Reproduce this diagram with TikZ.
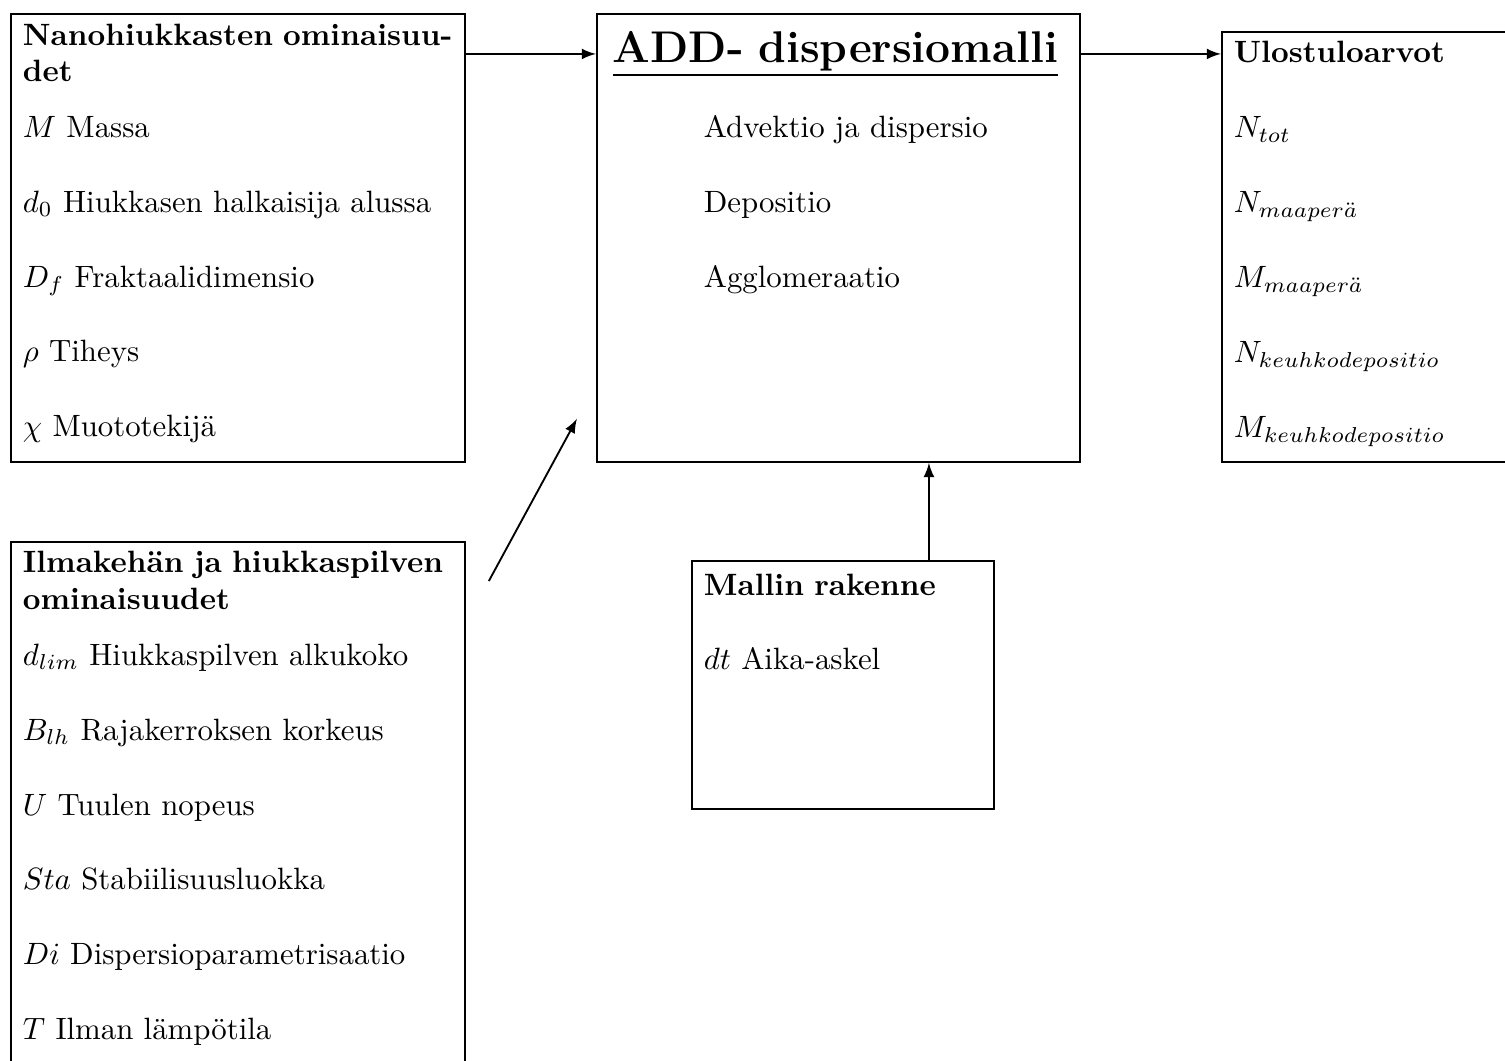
\documentclass[tikz,border=0pt]{standalone}
\newcommand{\vali}{12.3pt}
\begin{document}
\begin{tikzpicture}[semithick,>=latex,
    laatikko/.style={draw,rectangle,anchor=north west,inner sep=0pt},
    teksti/.style={anchor=base west,inner sep=0pt,text width=#1,align=left}]
  \useasboundingbox(0,0)rectangle(17.157,-12.095);
  % laatikot
  \node[laatikko,minimum width=5.176cm,minimum height=5.107cm](nano)at(0.114,-0.148){};
  \node[laatikko,minimum width=5.506cm,minimum height=5.107cm](add)at(6.794,-0.148){};
  \node[laatikko,minimum width=3.42cm,minimum height=4.902cm](ulos)at(13.919,-0.353){};
  \node[laatikko,minimum width=5.176cm,minimum height=6.156cm](ilma)at(0.114,-6.167){};
  \node[laatikko,minimum width=3.443cm,minimum height=2.827cm](mallin)at(7.877,-6.384){};
  % tekstit
  \node[teksti=5.1cm](nanoteksti)at([xshift=0.137cm,yshift=-0.365cm]nano.north west)
    {\textbf{Nanohiukkasten ominaisuu-}\\\textbf{det}\\[5.9pt]
     $M$ Massa\\[\vali]$d_0$ Hiukkasen halkaisija alussa\\[\vali]$D_f$ Fraktaalidimensio\\[\vali]
     $\rho$ Tiheys\\[\vali]$\chi$ Muototekijä};
  \node[teksti=5.4cm,font=\Large\bfseries](addotsikko)at([xshift=0.182cm,yshift=-0.559cm]add.north west)
    {\underline{ADD- dispersiomalli}};
  \node[teksti=4cm](addteksti)at([xshift=1.22cm,yshift=-1.425cm]add.north west)
    {Advektio ja dispersio\\[\vali]Depositio\\[\vali]Agglomeraatio};
  \node[teksti=3.2cm](ulosteksti)at([xshift=0.137cm,yshift=-0.365cm]ulos.north west)
    {\textbf{Ulostuloarvot}\\[\vali]$N_{tot}$\\[\vali]$N_{maaper\ddot{a}}$\\[\vali]$M_{maaper\ddot{a}}$\\[\vali]
     $N_{keuhkodepositio}$\\[\vali]$M_{keuhkodepositio}$};
  \node[teksti=5.1cm](ilmateksti)at([xshift=0.137cm,yshift=-0.365cm]ilma.north west)
    {\textbf{Ilmakehän ja hiukkaspilven}\\\textbf{ominaisuudet}\\[5.9pt]
     $d_{lim}$ Hiukkaspilven alkukoko\\[\vali]$B_{lh}$ Rajakerroksen korkeus\\[\vali]$U$ Tuulen nopeus\\[\vali]
     $Sta$ Stabiilisuusluokka\\[\vali]$Di$ Dispersioparametrisaatio\\[\vali]$T$ Ilman lämpötila};
  \node[teksti=3.3cm](mallinteksti)at([xshift=0.137cm,yshift=-0.399cm]mallin.north west)
    {\textbf{Mallin rakenne}\\[\vali]$dt$ Aika-askel};
  % nuolet
  \draw[->]([yshift=-0.467cm]nano.north east)--([yshift=-0.467cm]add.north west);
  \draw[->]([yshift=-0.467cm]add.north east)--([yshift=-0.262cm]ulos.north west);
  \draw[->]([xshift=2.713cm]mallin.north west)coordinate(mallinyla)--(mallinyla|-add.south);
  \coordinate(ilmanuoli)at([xshift=0.262cm,yshift=-0.456cm]ilma.north east);
  \coordinate(addnuoli)at([xshift=-0.217cm,yshift=0.502cm]add.south west);
  \draw[->](ilmanuoli)--(addnuoli);
\end{tikzpicture}
\end{document}
